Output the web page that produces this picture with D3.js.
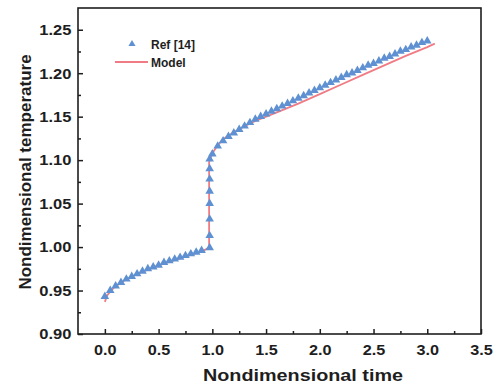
<!DOCTYPE html>
<html>
<head>
<meta charset="utf-8">
<script src="https://cdn.jsdelivr.net/npm/d3@7"></script>
<style>
  body { margin: 0; background: #fff; }
  text { font-family: "Liberation Sans", Arial, sans-serif; font-weight: bold; }
</style>
</head>
<body>
<div id="container"></div>
<script>
/* CONSTANTS AND GLOBALS */
const width = 502,
  height = 386,
  margin = { top: 8, bottom: 52, left: 78, right: 21 };

/* DATA */
// Ref [14] points
const refX = [0, 0.05, 0.1, 0.15, 0.2, 0.25, 0.3, 0.35, 0.4, 0.45, 0.5, 0.55, 0.6, 0.65, 0.7, 0.75, 0.8, 0.85, 0.9,
  0.975, 0.975, 0.975, 0.975, 0.975, 0.975, 0.975, 0.975,
  1.0, 1.05, 1.1, 1.15, 1.2, 1.25, 1.3, 1.35, 1.4, 1.45, 1.5, 1.55, 1.6, 1.65, 1.7, 1.75, 1.8, 1.85, 1.9, 1.95,
  2.0, 2.05, 2.1, 2.15, 2.2, 2.25, 2.3, 2.35, 2.4, 2.45, 2.5, 2.55, 2.6, 2.65, 2.7, 2.75, 2.8, 2.85, 2.9, 2.95, 3.0];
const refY = [0.942, 0.949, 0.954, 0.958, 0.962, 0.965, 0.968, 0.971, 0.974, 0.976, 0.978, 0.981, 0.983, 0.985, 0.987, 0.989, 0.991, 0.993, 0.995,
  0.998, 1.012, 1.031, 1.049, 1.063, 1.077, 1.089, 1.100,
  1.106, 1.115, 1.121, 1.126, 1.130, 1.134, 1.138, 1.142, 1.146, 1.149, 1.152, 1.155, 1.158, 1.161, 1.164, 1.167, 1.170, 1.173, 1.176, 1.179,
  1.182, 1.185, 1.188, 1.191, 1.194, 1.197, 1.199, 1.202, 1.205, 1.208, 1.210, 1.213, 1.216, 1.218, 1.221, 1.224, 1.226, 1.229, 1.231, 1.234, 1.236];

// Model curve
const modelX = [0, 0.02, 0.05, 0.1, 0.2, 0.3, 0.4, 0.5, 0.6, 0.7, 0.8, 0.9, 0.97, 0.97, 1.0, 1.05, 1.1, 1.2, 1.3, 1.4,
  1.6, 1.8, 2.0, 2.2, 2.4, 2.6, 2.8, 3.0, 3.07];
const modelY = [0.937, 0.944, 0.949, 0.955, 0.963, 0.969, 0.974, 0.979, 0.983, 0.987, 0.991, 0.995, 0.999, 1.098, 1.108, 1.117, 1.124, 1.132, 1.139, 1.145,
  1.155, 1.165, 1.176, 1.187, 1.198, 1.209, 1.220, 1.230, 1.234];

const xTicks = [0, 0.5, 1.0, 1.5, 2.0, 2.5, 3.0, 3.5];
const yTicks = [0.90, 0.95, 1.00, 1.05, 1.10, 1.15, 1.20, 1.25];
const xMinor = [0.25, 0.75, 1.25, 1.75, 2.25, 2.75, 3.25];
const yMinor = [0.925, 0.975, 1.025, 1.075, 1.125, 1.175, 1.225];

const refColor = "#5f91d2";
const modelColor = "#f07b84";
const ink = "#1e1e1e";

/* SCALES */
const xScale = d3.scaleLinear()
  .domain([-0.25, 3.5])
  .range([margin.left, width - margin.right]);

const yScale = d3.scaleLinear()
  .domain([0.9, 1.275])
  .range([height - margin.bottom, margin.top]);

const svg = d3.select("#container")
  .append("svg")
  .attr("width", width)
  .attr("height", height);

// + AXES (ticks point inward)
svg.append("g")
  .attr("class", "x-axis")
  .attr("transform", `translate(0,${height - margin.bottom})`)
  .call(d3.axisBottom(xScale).tickValues(xTicks).tickFormat(d3.format(".1f")).tickSizeInner(-5).tickSizeOuter(0).tickPadding(10));

svg.append("g")
  .attr("transform", `translate(0,${height - margin.bottom})`)
  .call(d3.axisBottom(xScale).tickValues(xMinor).tickFormat("").tickSizeInner(-3).tickSizeOuter(0));

svg.append("g")
  .attr("class", "y-axis")
  .attr("transform", `translate(${margin.left},0)`)
  .call(d3.axisLeft(yScale).tickValues(yTicks).tickFormat(d3.format(".2f")).tickSizeInner(-5).tickSizeOuter(0).tickPadding(6));

svg.append("g")
  .attr("transform", `translate(${margin.left},0)`)
  .call(d3.axisLeft(yScale).tickValues(yMinor).tickFormat("").tickSizeInner(-3).tickSizeOuter(0));

svg.selectAll(".tick line").attr("stroke", ink).attr("stroke-width", 1.5);
svg.selectAll(".tick text").attr("font-size", 15).attr("fill", ink);
// the reference type is a little wider than Arial
svg.selectAll(".x-axis .tick text").attr("transform", "scale(1.08,1)");
svg.selectAll(".y-axis .tick text").attr("transform", "scale(1.1,1)");

// frame
svg.selectAll(".domain").remove();
svg.append("rect")
  .attr("x", margin.left)
  .attr("y", margin.top)
  .attr("width", width - margin.left - margin.right)
  .attr("height", height - margin.top - margin.bottom)
  .attr("fill", "none")
  .attr("stroke", ink)
  .attr("stroke-width", 1.6);

// + MODEL LINE
const line = d3.line()
  .x(i => xScale(modelX[i]))
  .y(i => yScale(modelY[i]));

svg.append("path")
  .datum(d3.range(modelX.length))
  .attr("d", line)
  .attr("fill", "none")
  .attr("stroke", modelColor)
  .attr("stroke-width", 1.8);

// + REF TRIANGLES
const tri = d3.symbol().type(d3.symbolTriangle).size(32);
svg.selectAll("path.ref")
  .data(d3.range(refX.length))
  .join("path")
  .attr("class", "ref")
  .attr("d", tri)
  .attr("transform", i => `translate(${xScale(refX[i])},${yScale(refY[i]) - 1})`)
  .attr("fill", refColor);

// + LEGEND
svg.append("path")
  .attr("d", d3.symbol().type(d3.symbolTriangle).size(22))
  .attr("transform", "translate(132,44)")
  .attr("fill", refColor);
svg.append("text")
  .attr("x", 151).attr("y", 48.5)
  .attr("font-size", 12).attr("fill", ink)
  .text("Ref [14]");
svg.append("line")
  .attr("x1", 115).attr("x2", 148)
  .attr("y1", 62).attr("y2", 62)
  .attr("stroke", modelColor).attr("stroke-width", 1.8);
svg.append("text")
  .attr("x", 151).attr("y", 66.5)
  .attr("font-size", 12).attr("fill", ink)
  .text("Model");

// + AXIS LABELS
svg.append("text")
  .attr("x", 303)
  .attr("y", 381)
  .attr("text-anchor", "middle")
  .attr("font-size", 17).attr("fill", ink)
  .attr("textLength", 200).attr("lengthAdjust", "spacingAndGlyphs")
  .text("Nondimensional time");

svg.append("text")
  .attr("transform", `translate(31,172) rotate(-90)`)
  .attr("text-anchor", "middle")
  .attr("font-size", 17).attr("fill", ink)
  .text("Nondimensional temperature");
</script>
</body>
</html>
